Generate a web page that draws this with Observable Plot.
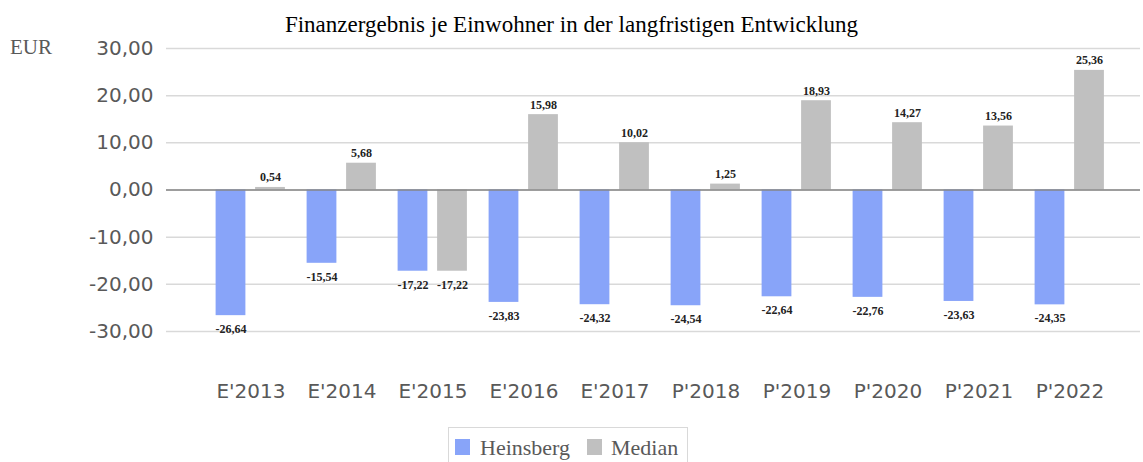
<!DOCTYPE html>
<html>
<head>
<meta charset="utf-8">
<script src="https://cdn.jsdelivr.net/npm/d3@7"></script>
<script src="https://cdn.jsdelivr.net/npm/@observablehq/plot@0.6"></script>
<style>
  html, body { margin: 0; padding: 0; background: #fff; overflow: hidden; }
  #wrap { position: relative; width: 1143px; height: 462px; }
  #chart { position: absolute; left: 0; top: 0; }
  .title { position: absolute; left: 0; top: 13px; width: 1143px; text-align: center;
    font-family: "Liberation Serif", serif; font-size: 23px; line-height: 23px; color: #000; white-space: nowrap; }
  .unit { position: absolute; left: 10px; top: 37px; font-family: "Liberation Serif", serif;
    font-size: 21px; line-height: 21px; color: #595959; }
  .legend { position: absolute; left: 448px; top: 427px; width: 240px; height: 50px;
    border: 1px solid #d9d9d9; box-sizing: border-box; }
  .sw { position: absolute; width: 15px; height: 16px; top: 11px; }
  .lt { position: absolute; top: 9px; font-family: "Liberation Serif", serif; font-size: 22px;
    line-height: 22px; color: #595959; white-space: nowrap; }
</style>
</head>
<body>
<div id="wrap">
  <div id="chart"></div>
  <div class="title">Finanzergebnis je Einwohner in der langfristigen Entwicklung</div>
  <div class="unit">EUR</div>
  <div class="legend">
    <div class="sw" style="left:6px;background:#88a4f9"></div>
    <div class="lt" style="left:31px">Heinsberg</div>
    <div class="sw" style="left:138px;background:#c0c0c0"></div>
    <div class="lt" style="left:162px">Median</div>
  </div>
</div>
<script>
const categories = ["E'2013","E'2014","E'2015","E'2016","E'2017","P'2018","P'2019","P'2020","P'2021","P'2022"];
const heinsberg = [-26.64,-15.54,-17.22,-23.83,-24.32,-24.54,-22.64,-22.76,-23.63,-24.35];
const median = [0.54,5.68,-17.22,15.98,10.02,1.25,18.93,14.27,13.56,25.36];
const yTicks = [-30,-20,-10,0,10,20,30];

const colors = {Heinsberg: "#88a4f9", Median: "#c0c0c0"};
const rowsH = categories.map((c, i) => ({cat: c, value: heinsberg[i]}));
const rowsM = categories.map((c, i) => ({cat: c, value: median[i]}));
const fmt = v => v.toFixed(2).replace(".", ",");

const bw = 30;
const step = (1071 - 250) / 9;
const inset = (step - bw) / 2;

function barMarks(rows, color, dx) {
  return [
    Plot.barY(rows, {x: "cat", y: "value", fill: color, dx, insetLeft: inset, insetRight: inset}),
    Plot.text(rows.filter(d => d.value >= 0), {x: "cat", y: "value", dx, text: d => fmt(d.value),
      lineAnchor: "bottom", dy: -6, fontSize: 12, fontFamily: "Liberation Serif", fontWeight: "bold", fill: "#222"}),
    Plot.text(rows.filter(d => d.value < 0), {x: "cat", y: "value", dx, text: d => fmt(d.value),
      lineAnchor: "top", dy: 9, fontSize: 12, fontFamily: "Liberation Serif", fontWeight: "bold", fill: "#222"})
  ];
}

const plot = Plot.plot({
  width: 1143,
  height: 462,
  marginLeft: 166,
  marginRight: 3,
  marginTop: 48,
  marginBottom: 131,
  style: {fontFamily: "DejaVu Sans", fontSize: "20px", color: "#595959", background: "transparent"},
  x: {type: "band", domain: categories, range: [250 - step / 2, 1071 + step / 2], padding: 0, label: null},
  y: {domain: [-30, 30], label: null},
  marks: [
    Plot.gridY(yTicks, {stroke: "#d9d9d9", strokeOpacity: 1, strokeWidth: 1.5}),
    Plot.axisY(yTicks, {tickSize: 0, tickPadding: 13, tickFormat: fmt, fontSize: 20, fill: "#595959", label: null}),
    Plot.axisX({tickSize: 0, tickPadding: 52, fontSize: 20, fill: "#595959", label: null}),
    ...barMarks(rowsH, colors.Heinsberg, -20),
    ...barMarks(rowsM, colors.Median, 19.5),
    Plot.ruleY([0], {stroke: "#868686", strokeWidth: 1.5})
  ]
});
document.getElementById("chart").appendChild(plot);
</script>
</body>
</html>
